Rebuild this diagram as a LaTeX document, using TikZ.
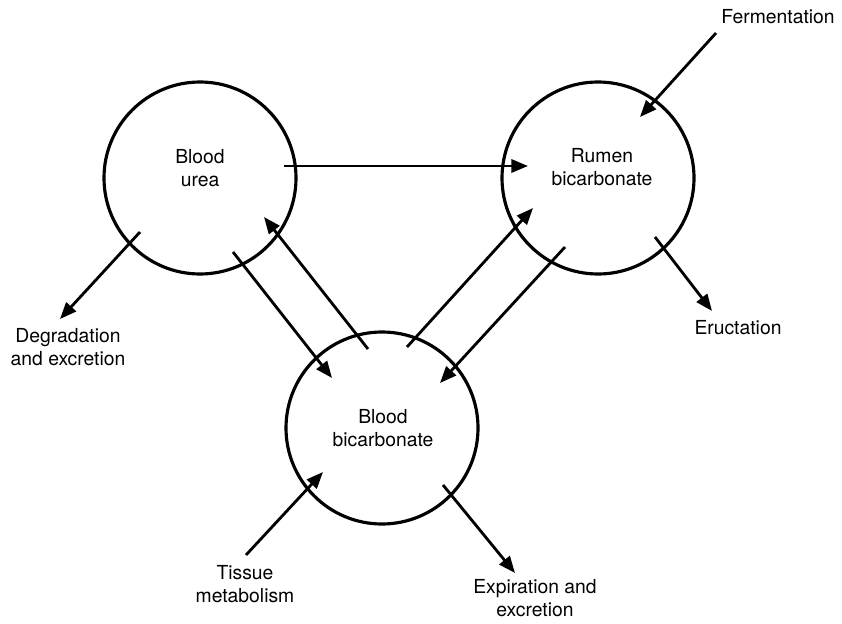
\documentclass[tikz,border=0pt]{standalone}
\usepackage{fontspec}
\setmainfont{TeX Gyre Heros}
\usetikzlibrary{arrows.meta, calc}
\tikzset{
  pool/.style={circle, draw, line width=1.8pt, minimum size=3.84cm, align=center,
    font=\fontsize{11}{12.8}\selectfont},
  lbl/.style={align=center, font=\fontsize{11}{12.8}\selectfont, inner sep=0pt},
  flow/.style={-{Triangle[length=9.5pt,width=7.5pt]}, line width=1.6pt}
}

\begin{document}
\begin{tikzpicture}
\useasboundingbox (0,0) rectangle (16.84,12.46);

% pools
\node[pool] (urea)  at (4.00,8.90) {};
\node[pool] (rumen) at (11.96,8.90) {};
\node[pool] (bicarb) at (7.64,3.90) {};
\node[lbl] (ureatxt)  at (4.00,9.10)  {Blood\\urea};
\node[lbl] (rumentxt) at (12.04,9.12) {Rumen\\bicarbonate};
\node[lbl] (bicarbtxt) at (7.66,3.90) {Blood\\bicarbonate};

% sources and sinks
\node[lbl] (ferm)  at (15.56,12.12) {Fermentation};
\node[lbl] (eruc)  at (14.76,5.90)  {Eructation};
\node[lbl] (degr)  at (1.36,5.52)   {Degradation\\and excretion};
\node[lbl] (tiss)  at (4.90,0.78)   {Tissue\\metabolism};
\node[lbl] (expi)  at (10.70,0.50)  {Expiration and\\excretion};

\coordinate (fermend) at (14.32,11.80);
\coordinate (erucend) at (14.24,6.24);
\coordinate (degrend) at (1.20,6.08);
\coordinate (tissend) at (4.92,1.36);
\coordinate (expiend) at (10.30,1.00);

% exchanges between pools
\draw[flow] ($(urea)+(1.68,0.24)$) -- ($(rumen)+(-1.40,0.24)$);
\draw[flow] ($(urea)+(0.66,-1.48)$) -- ($(bicarb)+(-1.00,1.00)$);
\draw[flow] ($(bicarb)+(-0.28,1.58)$) -- ($(urea)+(1.28,-0.78)$);
\draw[flow] ($(bicarb)+(0.50,1.62)$) -- ($(rumen)+(-1.30,-0.60)$);
\draw[flow] ($(rumen)+(-0.66,-1.38)$) -- ($(bicarb)+(1.16,0.90)$);

% inputs and outputs
\draw[flow] (fermend) -- ($(rumen)+(0.84,1.22)$);
\draw[flow] ($(rumen)+(1.14,-1.18)$) -- (erucend);
\draw[flow] ($(urea)+(-1.20,-1.08)$) -- (degrend);
\draw[flow] (tissend) -- ($(bicarb)+(-1.18,-0.88)$);
\draw[flow] ($(bicarb)+(1.22,-1.14)$) -- (expiend);
\end{tikzpicture}
\end{document}
